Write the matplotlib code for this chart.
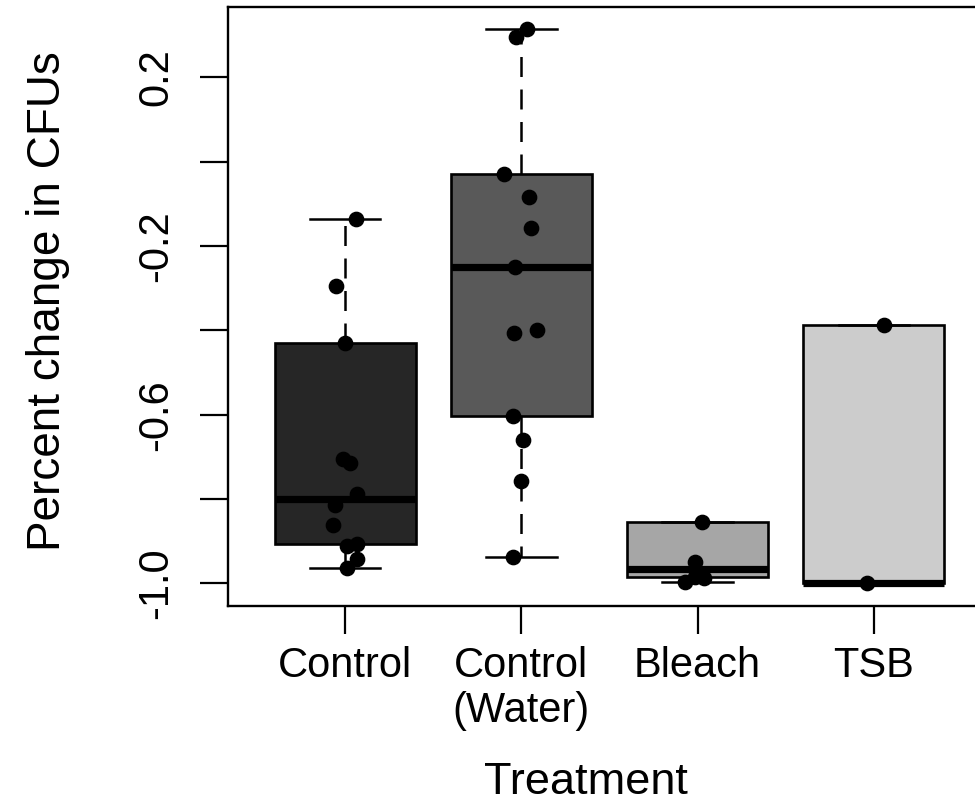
import numpy as np
import matplotlib.pyplot as plt

plt.rcParams['font.family'] = ['Liberation Sans', 'DejaVu Sans']

treatments = ['Control', 'Control\n(Water)', 'Bleach', 'TSB']
fills = ['#262626', '#595959', '#a6a6a6', '#cccccc']

# percent change in CFUs for each replicate
control = [-0.136, -0.295, -0.430, -0.706, -0.714, -0.788, -0.815, -0.862,
           -0.907, -0.911, -0.942, -0.964]
control_water = [0.314, 0.296, -0.029, -0.084, -0.158, -0.250, -0.399, -0.406,
                 -0.603, -0.660, -0.757, -0.938]
bleach = [-0.854, -0.949, -0.984, -0.988, -0.996]
tsb = [-0.387, -1.0]

# sideways jitter of the strip points
control_jit = [0.061, -0.052, 0.0, -0.011, 0.027, 0.065, -0.058, -0.068,
               0.069, 0.012, 0.065, 0.012]
control_water_jit = [0.029, -0.033, -0.096, 0.042, 0.056, -0.037, 0.086, -0.043,
                     -0.049, 0.010, 0.0, -0.049]
bleach_jit = [0.024, -0.014, -0.014, 0.039, -0.069]
tsb_jit = [0.058, -0.040]

# box summaries
med = [-0.801, -0.250, -0.966, -1.0]
q1 = [-0.907, -0.603, -0.986, -1.0]
q3 = [-0.430, -0.029, -0.854, -0.387]
whislo = [-0.964, -0.938, -0.996, -1.0]
whishi = [-0.136, 0.314, -0.854, -0.387]

groups = [control, control_water, bleach, tsb]
jitters = [control_jit, control_water_jit, bleach_jit, tsb_jit]

fig = plt.figure(figsize=(9.75, 8.09), dpi=100)
ax = fig.add_axes([228 / 975, 1 - 605.7 / 809, 763 / 975, 598.7 / 809])

stats = []
for i in range(len(treatments)):
    stats.append(dict(med=med[i], q1=q1[i], q3=q3[i], whislo=whislo[i],
                      whishi=whishi[i], fliers=[]))

pos = np.arange(1, len(treatments) + 1)
bp = ax.bxp(stats, positions=pos, widths=0.8, capwidths=0.4, patch_artist=True,
            showfliers=False,
            boxprops=dict(linewidth=1.9, edgecolor='black'),
            whiskerprops=dict(linewidth=1.8, color='black', linestyle=(0, (8, 5))),
            capprops=dict(linewidth=1.8, color='black'),
            medianprops=dict(linewidth=5.2, color='black', solid_capstyle='butt'))
for box, c in zip(bp['boxes'], fills):
    box.set_facecolor(c)

for p, vals, jit in zip(pos, groups, jitters):
    ax.plot(p + np.array(jit), vals, 'o', color='black', ms=10.3, zorder=5)

ax.set_xlim(0.335, 4.665)
ax.set_ylim(-1.053, 0.3667)

yt = [-1.0, -0.8, -0.6, -0.4, -0.2, 0.0, 0.2]
ax.set_yticks(yt)
ax.set_yticklabels(['-1.0', '', '-0.6', '', '-0.2', '', '0.2'],
                   rotation=90, va='center')
ax.set_xticks(pos)
ax.set_xticklabels(treatments, linespacing=1.15)

ax.tick_params(axis='both', length=20, width=1.6, labelsize=30, direction='out')
ax.tick_params(axis='y', pad=17)
ax.tick_params(axis='x', pad=9)
for s in ax.spines.values():
    s.set_linewidth(1.7)

fig.text(48 / 975, 1 - 301 / 809, 'Percent change in CFUs', rotation=90,
         ha='center', va='center', fontsize=33)
fig.text(586 / 975, 1 - 783 / 809, 'Treatment', ha='center', va='center',
         fontsize=32.5)

fig.savefig('out.png', dpi=100)
